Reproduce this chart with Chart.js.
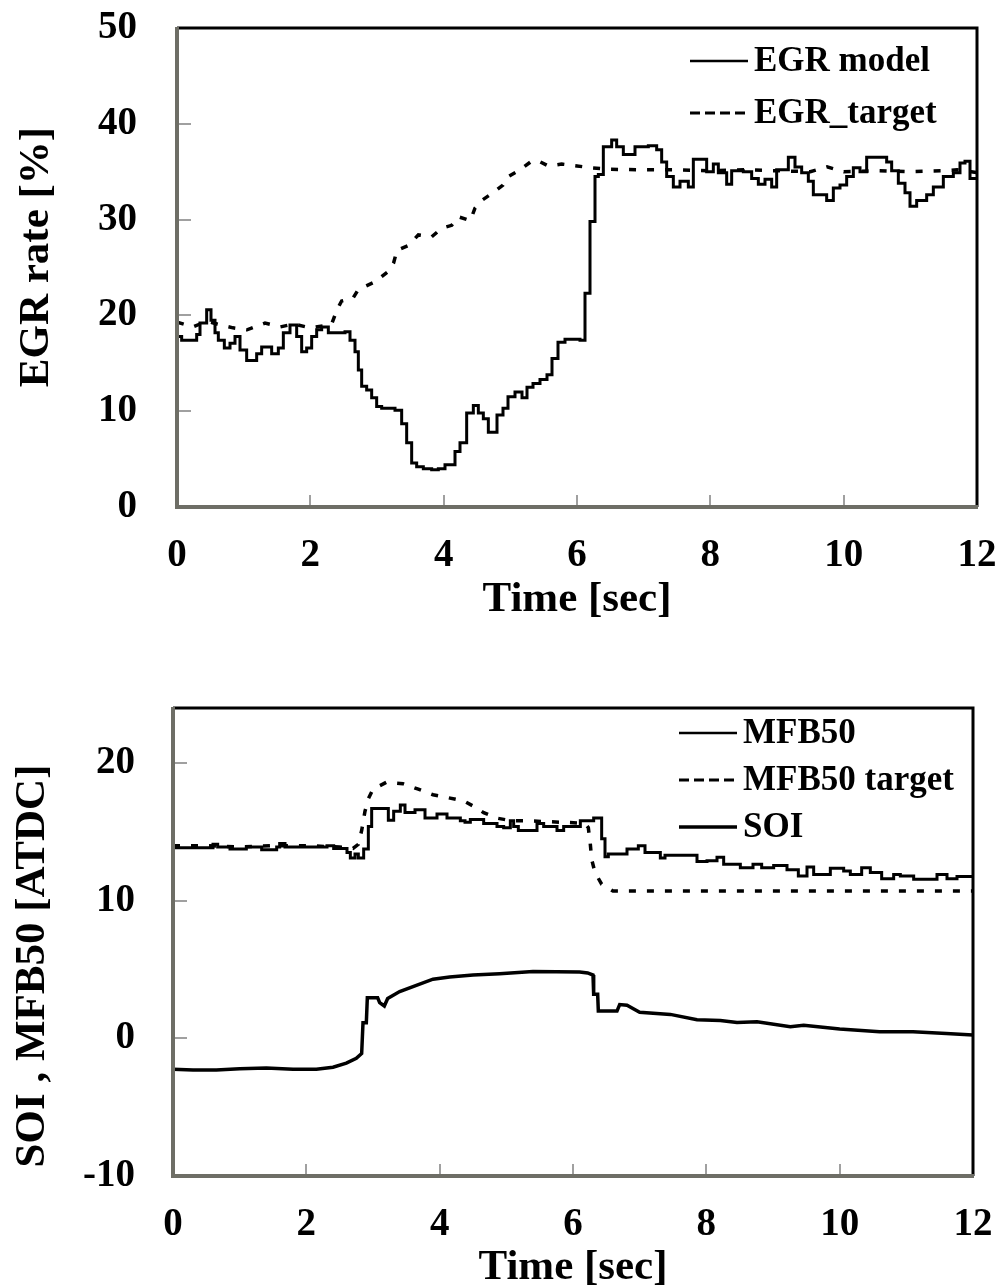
<!DOCTYPE html>
<html>
<head>
<meta charset="utf-8">
<title>EGR rate / SOI, MFB50</title>
<script src="https://cdn.jsdelivr.net/npm/chart.js@4.4.1/dist/chart.umd.min.js"></script>
<style>
  html, body { margin: 0; padding: 0; background: #fff; overflow: hidden; }
  #egrChart { position: absolute; left: 0; top: 0; }
  #mfbChart { position: absolute; left: 0; top: 643px; }
</style>
</head>
<body>
<canvas id="egrChart" width="1000" height="643"></canvas>
<canvas id="mfbChart" width="1000" height="680"></canvas>
<script>
// ---- top panel: EGR rate ----
const timeTicks = [0, 2, 4, 6, 8, 10, 12];
const egrTicks = [0, 10, 20, 30, 40, 50];

// step samples: each value holds from its time until the next one
const egrModelTime = [0, 0.07, 0.295, 0.345, 0.445, 0.51, 0.57, 0.62, 0.71, 0.795, 0.87, 0.945, 1.045, 1.195, 1.27,
  1.42, 1.52, 1.595, 1.695, 1.795, 1.87, 1.945, 2.02, 2.095, 2.17, 2.27, 2.52, 2.595, 2.67, 2.72, 2.77, 2.845, 2.92,
  2.995, 3.07, 3.27, 3.37, 3.445, 3.52, 3.595, 3.695, 3.82, 3.92, 4.02, 4.17, 4.245, 4.345, 4.445, 4.52, 4.595, 4.67,
  4.8, 4.89, 4.965, 5.07, 5.175, 5.25, 5.34, 5.445, 5.55, 5.625, 5.715, 5.82, 6.045, 6.12, 6.195, 6.27, 6.32, 6.395,
  6.47, 6.52, 6.595, 6.695, 6.87, 7.07, 7.195, 7.27, 7.345, 7.445, 7.545, 7.67, 7.745, 7.845, 7.945, 8.045, 8.12,
  8.245, 8.32, 8.495, 8.62, 8.72, 8.82, 8.92, 8.995, 9.17, 9.27, 9.37, 9.47, 9.545, 9.745, 9.845, 9.945, 10.045,
  10.145, 10.245, 10.345, 10.52, 10.645, 10.72, 10.82, 10.92, 10.995, 11.095, 11.245, 11.345, 11.495, 11.645,
  11.745, 11.82, 11.895, 12];
const egrModelRate = [17.8, 17.4, 18.0, 19.2, 20.6, 19.5, 18.2, 17.4, 16.6, 17.1, 17.8, 16.4, 15.3, 16.0, 16.7,
  16.0, 16.6, 18.2, 19.0, 17.8, 16.2, 16.6, 17.8, 18.5, 18.8, 18.2, 18.3, 17.4, 16.2, 14.3, 12.6, 12.2, 11.4,
  10.5, 10.3, 10.1, 8.7, 6.7, 4.6, 4.2, 4.0, 3.9, 4.0, 4.4, 5.8, 6.7, 9.8, 10.6, 9.8, 9.2, 7.8,
  9.6, 10.3, 11.5, 12.0, 11.4, 12.5, 12.9, 13.3, 13.8, 15.5, 17.2, 17.5, 17.4, 22.3, 29.8, 34.5, 34.7, 37.6,
  37.6, 38.3, 37.6, 36.8, 37.6, 37.7, 37.3, 36.0, 34.5, 33.4, 34.0, 33.4, 36.3, 36.3, 35.0, 35.8, 34.9,
  33.7, 35.1, 35.0, 34.3, 33.7, 34.2, 33.4, 35.2, 36.5, 35.5, 34.9, 34.0, 32.6, 32.0, 33.3, 33.6, 34.5,
  35.4, 35.0, 36.5, 36.5, 36.0, 35.1, 33.8, 32.8, 31.4, 32.0, 32.6, 33.4, 34.5, 34.9,
  35.9, 36.1, 34.3, 34.3];

const egrTargetTime = [0, 0.24, 0.45, 0.65, 0.84, 1.05, 1.32, 1.55, 1.75, 2.0, 2.19, 2.32, 2.4, 2.47, 2.64, 2.72,
  2.97, 3.17, 3.25, 3.3, 3.47, 3.62, 3.82, 3.97, 4.12, 4.22, 4.4, 4.47, 4.57, 4.74, 4.89, 4.97, 5.145, 5.3, 5.4,
  5.57, 5.77, 6.0, 6.22, 6.5, 7.0, 7.5, 8.0, 8.5, 9.0, 9.5, 9.75, 10.0, 10.5, 11.0, 11.5, 11.7, 12];
const egrTargetRate = [19.3, 18.8, 19.4, 19.0, 18.7, 18.5, 19.2, 18.8, 19.1, 18.7, 18.9, 19.1, 20.6, 21.5, 21.8, 22.7,
  23.5, 24.6, 25.5, 26.8, 27.3, 28.4, 28.2, 29.1, 29.4, 30.3, 29.9, 31.2, 32.0, 32.8, 33.6, 34.5, 35.2, 36.0, 36.2,
  35.6, 35.8, 35.6, 35.4, 35.25, 35.2, 35.2, 35.1, 35.2, 35.1, 35.0, 35.5, 35.0, 35.1, 35.0, 35.1, 35.2, 34.9];

// ---- bottom panel: SOI and MFB50 ----
const crankTicks = [-10, 0, 10, 20];

const mfbTime = [0, 0.6, 0.67, 0.855, 1.1, 1.33, 1.555, 1.6, 1.68, 2.31, 2.41, 2.61, 2.66, 2.73, 2.78, 2.86, 2.93,
  2.98, 3.23, 3.31, 3.41, 3.48, 3.63, 3.78, 3.96, 4.11, 4.31, 4.38, 4.46, 4.66, 4.86, 4.96, 5.06, 5.11, 5.18, 5.46,
  5.56, 5.76, 5.86, 6.11, 6.31, 6.43, 6.48, 6.53, 6.81, 6.98, 7.08, 7.31, 7.38, 7.86, 8.01, 8.16, 8.26, 8.51, 8.7,
  8.83, 9.01, 9.21, 9.38, 9.51, 9.61, 9.86, 10.06, 10.16, 10.33, 10.46, 10.63, 10.81, 10.91, 11.11, 11.46, 11.61,
  11.76, 12];
const mfbAngle = [13.85, 14.1, 13.9, 13.75, 13.9, 13.7, 13.9, 14.15, 13.9, 14.0, 13.8, 13.5, 13.1, 13.4, 13.1, 13.75,
  15.4, 16.7, 15.85, 16.5, 16.95, 16.4, 16.6, 16.0, 16.3, 16.0, 15.8, 15.7, 15.9, 15.6, 15.4, 15.3, 15.8, 15.4, 15.1,
  15.6, 15.4, 15.1, 15.4, 15.8, 16.0, 14.5, 13.2, 13.4, 13.75, 14.0, 13.5, 13.1, 13.3, 12.85, 12.9, 13.15, 12.65,
  12.4, 12.65, 12.4, 12.55, 12.25, 11.8, 12.45, 11.9, 12.35, 12.15, 11.9, 12.4, 12.05, 11.6, 11.9, 11.8, 11.55,
  11.9, 11.6, 11.75, 11.75];

const mfbTargetTime = [0, 0.5, 1.0, 1.5, 2.0, 2.5, 2.7, 2.78, 2.83, 2.88, 2.93, 3.0, 3.2, 3.45, 3.68, 3.9, 4.11, 4.36,
  4.53, 4.66, 4.86, 5.08, 5.33, 5.58, 5.83, 6.08, 6.2, 6.23, 6.26, 6.28, 6.33, 6.43, 6.6, 8.0, 10.0, 12];
const mfbTargetAngle = [14.0, 14.0, 13.9, 14.0, 14.0, 13.9, 13.8, 14.1, 15.1, 16.5, 17.4, 18.1, 18.6, 18.5, 18.1, 17.7,
  17.5, 17.25, 16.8, 16.4, 16.0, 15.8, 15.8, 15.75, 15.7, 15.65, 15.5, 15.3, 14.1, 13.0, 12.05, 11.2, 10.7, 10.7,
  10.7, 10.7];

const soiTime = [0, 0.3, 0.65, 1.0, 1.4, 1.8, 2.15, 2.4, 2.6, 2.75, 2.83, 2.85, 2.9, 2.915, 3.07, 3.1, 3.17, 3.22,
  3.4, 3.65, 3.9, 4.15, 4.5, 4.9, 5.4, 6.1, 6.22, 6.3, 6.31, 6.37, 6.38, 6.66, 6.7, 6.81, 7.0, 7.46, 7.86, 8.21,
  8.46, 8.76, 9.26, 9.46, 10.0, 10.6, 11.1, 11.6, 12];
const soiAngle = [-2.25, -2.3, -2.3, -2.2, -2.15, -2.25, -2.25, -2.1, -1.8, -1.45, -1.1, 1.13, 1.13, 2.95, 2.95, 2.6,
  2.35, 2.9, 3.4, 3.85, 4.3, 4.45, 4.6, 4.7, 4.85, 4.82, 4.75, 4.6, 3.2, 3.2, 1.98, 1.98, 2.45, 2.4, 1.9, 1.74, 1.35,
  1.3, 1.15, 1.2, 0.85, 0.95, 0.68, 0.48, 0.48, 0.36, 0.24];

const serif = "'Liberation Serif', 'Times New Roman', serif";
const tickFont = { family: serif, size: 39, weight: 'bold' };
const titleFont = { family: serif, size: 43, weight: 'bold' };

const toPoints = (xs, ys) => xs.map((x, i) => ({ x: x, y: ys[i] }));

// inward tick marks plus the box around the plot
const framePlugin = {
  id: 'frame',
  afterDatasetsDraw(chart) {
    const { ctx, chartArea: a, scales } = chart;
    ctx.save();
    ctx.strokeStyle = '#a0a0a0';
    ctx.lineWidth = 2;
    scales.y.ticks.forEach(t => {
      const py = Math.round(scales.y.getPixelForValue(t.value));
      if (py <= a.top + 2 || py >= a.bottom - 2) return;
      ctx.beginPath();
      ctx.moveTo(a.left, py);
      ctx.lineTo(a.left + 14, py);
      ctx.stroke();
    });
    scales.x.ticks.forEach(t => {
      const px = Math.round(scales.x.getPixelForValue(t.value));
      if (px <= a.left + 2 || px >= a.right - 2) return;
      ctx.beginPath();
      ctx.moveTo(px, a.bottom);
      ctx.lineTo(px, a.bottom - 12);
      ctx.stroke();
    });
    // top and right edges in black
    ctx.strokeStyle = '#000';
    ctx.lineWidth = 3;
    ctx.beginPath();
    ctx.moveTo(a.left, a.top);
    ctx.lineTo(a.right, a.top);
    ctx.lineTo(a.right, a.bottom);
    ctx.stroke();
    // left and bottom axes in grey
    ctx.strokeStyle = '#6e6e66';
    ctx.lineWidth = 4;
    ctx.beginPath();
    ctx.moveTo(a.left, a.top - 1);
    ctx.lineTo(a.left, a.bottom);
    ctx.lineTo(a.right + 1, a.bottom);
    ctx.stroke();
    ctx.restore();
  }
};

// rotated y-axis title
const yTitlePlugin = {
  id: 'yTitle',
  afterDraw(chart, args, opts) {
    const ctx = chart.ctx;
    ctx.save();
    ctx.font = 'bold 43px ' + serif;
    ctx.fillStyle = '#000';
    ctx.translate(opts.x, opts.y);
    ctx.rotate(-Math.PI / 2);
    ctx.textAlign = 'center';
    ctx.textBaseline = 'alphabetic';
    ctx.fillText(opts.text, 0, 0);
    ctx.restore();
  }
};

// line-sample legend inside the plot
const keyPlugin = {
  id: 'key',
  afterDraw(chart, args, opts) {
    const ctx = chart.ctx;
    ctx.save();
    ctx.font = 'bold 35px ' + serif;
    ctx.fillStyle = '#000';
    ctx.strokeStyle = '#000';
    ctx.textAlign = 'left';
    ctx.textBaseline = 'middle';
    opts.items.forEach((item, i) => {
      const y = opts.y + i * opts.gap;
      ctx.lineWidth = item.width;
      ctx.setLineDash(item.dash || []);
      ctx.beginPath();
      ctx.moveTo(opts.x, y);
      ctx.lineTo(opts.x + 58, y);
      ctx.stroke();
      ctx.fillText(item.text, opts.x + 64, y + 1);
    });
    ctx.restore();
  }
};

// the plot box is set by layout.padding alone, so drop the label padding
function noLabelPadding(s) {
  s.paddingTop = 0;
  s.paddingBottom = 0;
  s.paddingLeft = 0;
  s.paddingRight = 0;
}

function timeAxis(height, titleBottom) {
  return {
    type: 'linear',
    min: 0,
    max: 12,
    afterBuildTicks: s => { s.ticks = timeTicks.map(v => ({ value: v })); },
    afterFit: s => { s.height = height; noLabelPadding(s); },
    ticks: { font: tickFont, color: '#000', padding: 26, maxRotation: 0 },
    grid: { display: false, drawTicks: false },
    border: { display: false },
    title: { display: true, text: 'Time [sec]', font: titleFont, color: '#000', padding: { top: 0, bottom: titleBottom } }
  };
}

function valueAxis(min, max, tickValues, width, pad) {
  return {
    min: min,
    max: max,
    afterBuildTicks: s => { s.ticks = tickValues.map(v => ({ value: v })); },
    afterFit: s => { s.width = width; noLabelPadding(s); },
    ticks: { font: tickFont, color: '#000', padding: pad },
    grid: { display: false, drawTicks: false },
    border: { display: false }
  };
}

const common = {
  responsive: false,
  animation: false,
  devicePixelRatio: 1,
  elements: { point: { radius: 0 }, line: { borderColor: '#000', tension: 0 } },
  parsing: false
};

new Chart(document.getElementById('egrChart'), {
  type: 'line',
  data: {
    datasets: [
      { label: 'EGR model', data: toPoints(egrModelTime, egrModelRate), stepped: 'before', borderWidth: 3 },
      { label: 'EGR_target', data: toPoints(egrTargetTime, egrTargetRate), borderWidth: 3.5, borderDash: [7, 11] }
    ]
  },
  options: Object.assign({}, common, {
    layout: { padding: { left: 0, top: 28, right: 23, bottom: 0 } },
    scales: {
      x: timeAxis(136, 17),
      y: valueAxis(0, 50, egrTicks, 177, 40)
    },
    plugins: {
      legend: { display: false },
      tooltip: { enabled: false },
      yTitle: { text: 'EGR rate [%]', x: 48, y: 257 },
      key: {
        x: 690, y: 61, gap: 52,
        items: [
          { text: 'EGR model', width: 2.5 },
          { text: 'EGR_target', width: 3, dash: [10, 5] }
        ]
      }
    }
  }),
  plugins: [framePlugin, yTitlePlugin, keyPlugin]
});

new Chart(document.getElementById('mfbChart'), {
  type: 'line',
  data: {
    datasets: [
      { label: 'MFB50', data: toPoints(mfbTime, mfbAngle), stepped: 'before', borderWidth: 3 },
      { label: 'MFB50 target', data: toPoints(mfbTargetTime, mfbTargetAngle), borderWidth: 3.5, borderDash: [7, 11] },
      { label: 'SOI', data: toPoints(soiTime, soiAngle), borderWidth: 3.5 }
    ]
  },
  options: Object.assign({}, common, {
    layout: { padding: { left: 0, top: 65, right: 27, bottom: 0 } },
    scales: {
      x: timeAxis(147, 29),
      y: valueAxis(-10, 24, crankTicks, 173, 38)
    },
    plugins: {
      legend: { display: false },
      tooltip: { enabled: false },
      yTitle: { text: 'SOI , MFB50 [ATDC]', x: 44, y: 323 },
      key: {
        x: 679, y: 90, gap: 47,
        items: [
          { text: 'MFB50', width: 2.5 },
          { text: 'MFB50 target', width: 3, dash: [10, 5] },
          { text: 'SOI', width: 3.5 }
        ]
      }
    }
  }),
  plugins: [framePlugin, yTitlePlugin, keyPlugin]
});
</script>
</body>
</html>
